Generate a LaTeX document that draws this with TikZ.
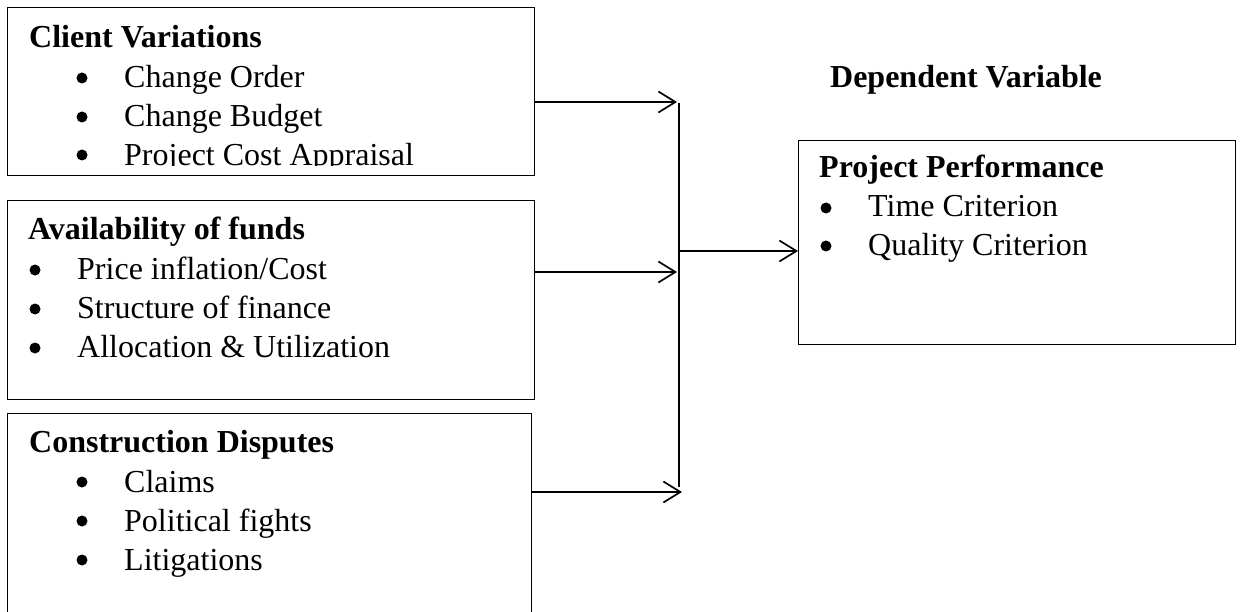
\documentclass[tikz,border=0pt]{standalone}
\usepackage{fontspec}
\setmainfont{Liberation Serif}
\usetikzlibrary{arrows.meta}
\begin{document}
\begin{tikzpicture}[x=1pt,y=-1pt,
  box/.style={draw, line width=1.1pt, inner sep=0pt, anchor=north west},
  txt/.style={anchor=base west, inner sep=0pt, font=\fontsize{32}{38}\selectfont},
  ttl/.style={txt, font=\fontsize{32}{38}\selectfont\bfseries},
  dot/.style={circle, fill=black, inner sep=0pt, minimum size=11pt},
  arr/.style={line width=1.7pt, -{Straight Barb[length=17pt,width=21pt,line width=1.7pt]}},
  ln/.style={line width=1.7pt}]
\clip (0,0) rectangle (1241,612);
\fill[white] (0,0) rectangle (1241,612);
% boxes
\node[box, minimum width=527pt, minimum height=168pt] (b1) at (7,7) {};
\node[box, minimum width=527pt, minimum height=199pt] (b2) at (7,200) {};
\node[box, minimum width=524pt, minimum height=260pt] (b3) at (7,413) {};
\node[box, minimum width=437pt, minimum height=204pt] (pp) at (798,140) {};
% box 1 text (clipped at the bottom)
\begin{scope}
\clip (7,7) rectangle (534,165.5);
\node[ttl] (t1) at (29,48) {Client Variations};
\node[dot] (u11) at (82,78) {};
\node[txt] (i11) at (124,88) {Change Order};
\node[dot] (u12) at (82,117) {};
\node[txt] (i12) at (124,127) {Change Budget};
\node[dot] (u13) at (82,155) {};
\node[txt] (i13) at (124,165.5) {Project Cost Appraisal};
\end{scope}
% box 2 text
\node[ttl] (t2) at (28,240) {Availability of funds};
\node[dot] (u21) at (35,270) {};
\node[txt] (i21) at (77,279) {Price inflation/Cost};
\node[dot] (u22) at (35,309) {};
\node[txt] (i22) at (77,318) {Structure of finance};
\node[dot] (u23) at (35,348) {};
\node[txt] (i23) at (77,357) {Allocation \& Utilization};
% box 3 text
\node[ttl] (t3) at (29,452) {Construction Disputes};
\node[dot] (u31) at (82,482) {};
\node[txt] (i31) at (124,492) {Claims};
\node[dot] (u32) at (82,521) {};
\node[txt] (i32) at (124,531) {Political fights};
\node[dot] (u33) at (82,560) {};
\node[txt] (i33) at (124,570) {Litigations};
% dependent box text
\node[ttl, anchor=base] (dv) at (966,88) {Dependent Variable};
\node[ttl] (t4) at (819,178) {Project Performance};
\node[dot] (u41) at (826,208) {};
\node[txt] (i41) at (868,217) {Time Criterion};
\node[dot] (u42) at (826,246) {};
\node[txt] (i42) at (868,255) {Quality Criterion};
% connectors
\coordinate (a1) at (677,102);
\coordinate (a2) at (677,272);
\coordinate (a3) at (682,492);
\coordinate (v1) at (679,103);
\coordinate (v2) at (679,487);
\coordinate (vm) at (679,251);
\draw[arr] (b1.east |- a1) -- (a1);
\draw[arr] (b2.east |- a2) -- (a2);
\draw[arr] (b3.east |- a3) -- (a3);
\draw[ln] (v1) -- (v2);
\draw[arr] (vm) -- (pp.west |- vm);
\end{tikzpicture}
\end{document}
